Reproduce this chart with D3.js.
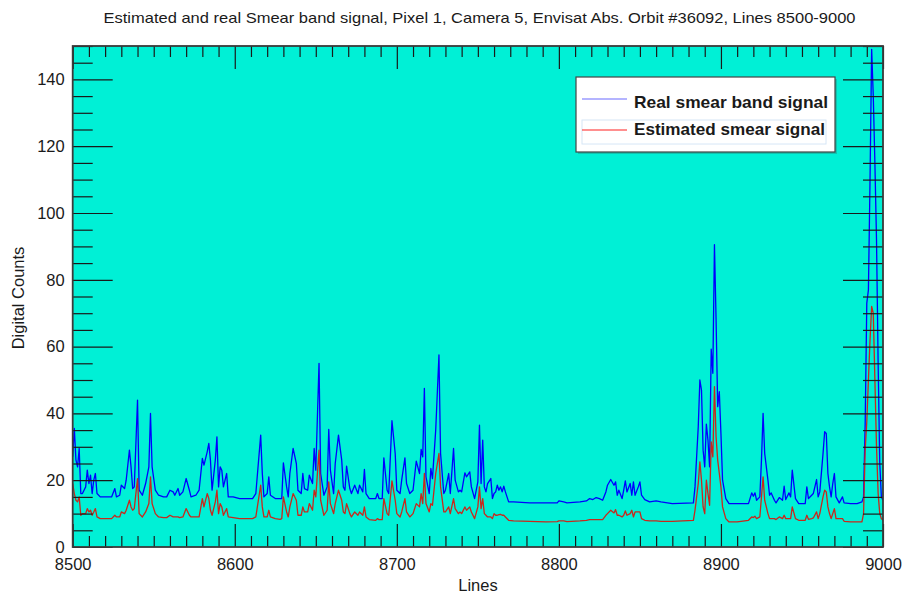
<!DOCTYPE html>
<html>
<head>
<meta charset="utf-8">
<script src="https://cdn.jsdelivr.net/npm/d3@7"></script>
<style>
  html, body { margin: 0; padding: 0; background: #ffffff; }
  svg { display: block; }
  text { font-family: "Liberation Sans", Arial, sans-serif; fill: #1a1a1a; }
</style>
</head>
<body>
<svg id="chart" width="904" height="597"></svg>
<script>
// Image line numbers and the smear signal (digital counts) at each of them
const lines = [
  8500,8501,8502,8503,8504,8505,8506,8507,8508,8509,8510,8511,8512,8513,8514,8515,8517,8521,8524,8526,
  8527,8529,8530,8532,8533,8535,8536,8537,8538,8540,8541,8543,8545,8547,8548,8549,8551,8553,8556,8558,
  8560,8562,8563,8565,8566,8568,8570,8572,8573,8576,8578,8580,8581,8583,8584,8585,8586,8588,8589,8590,
  8591,8592,8593,8595,8596,8599,8603,8611,8613,8616,8617,8618,8620,8621,8622,8625,8628,
  8629,8630,8632,8633,8634,8636,8638,8639,8641,8642,8643,8645,8646,8648,8649,8650,8652,8653,8655,8657,
  8658,8659,8661,8662,8664,8666,8667,8668,8669,8671,8672,8674,8676,8677,8679,8680,8681,8683,8687,8688,
  8689,8691,8692,8694,8695,8697,8699,8700,8702,8703,8705,8706,8708,8710,8712,8714,8715,8716,8717,8718,
  8720,8721,8722,8724,8726,8727,8729,8730,8732,8733,8735,8736,8738,8739,8740,8742,8743,8745,8746,8748,
  8750,8751,8752,8753,8754,8755,
  8756,8758,8759,8760,8761,8762,8763,8764,8765,8766,8767,8769,8772,8782,8792,8799,8800,8803,8805,8813,
  8817,8819,8821,8823,8825,8827,8829,8830,8832,8834,8835,8836,8837,8839,8840,8841,8842,8844,8845,8846,
  8847,8849,8850,8851,8853,8856,8860,8863,8867,
  8870,8883,8884,8886,8887,8888,8889,8890,8891,8892,8893,8894,8895,8896,8897,8898,8899,8900,8901,8903,
  8905,8910,8917,8919,8920,8921,8922,8924,8925,8926,8927,8929,8930,8931,8933,8934,8936,8938,8939,8940,
  8942,8943,8944,8946,8948,8952,8953,8954,8956,8957,8959,8960,8961,8963,8964,8965,8966,8967,8968,8969,
  8970,8971,8973,8975,8976,8980,8984,8987,8988,8989,8990,8991,8992,8993,8994,8995,8996,8997,8998,8999,9000
];

const realSmear = [
  27,35.5,26,24,29.5,16,16,17,18,23,19,21.5,16,20,22,16,15,15,15,17.5,
  15,15.5,18.5,17.5,20,29,24,17.5,18,44,17,15.5,19,24,40,24,17,15.5,15,15,
  17,16.5,15.5,17.5,15.5,16.5,20.5,17,15,15.5,17,26.5,24.5,28.5,31,26,17,26,33,18,
  24,23,18,22,15,15,14.5,14.5,16,33.5,22,15,16,21,15.5,14.5,14.5,
  14.5,25.2,18,15,22,29.5,25,17,16,22,17.5,17,21.5,19,29.5,23,55,22,15.5,18,
  35.2,23,16,25,33.5,26,18,17,24.2,17.5,16,18.5,16,18.5,16.5,23.2,16,14.5,14.5,16,
  14.5,14.5,26.7,17,16,37.8,28,17,16,20,26.7,19,16,17,25.7,22,29.2,27,47.5,21,
  16,23.5,20.5,35,57.5,28,16,17,22,16,29.5,20,16.5,17,16.5,22.2,21,22.5,18,14.5,
  19.5,36.5,19,32,18,16.5,
  19,20.5,14.5,16,16.5,18.5,17,18,16.5,18.2,16.5,13.5,13.5,13.2,13.2,13.2,13.8,13.5,13.2,13.5,
  13.8,14.5,14.2,14.8,14.5,14,16.5,18.5,20.2,18.5,19.5,15.5,17,14.5,17,19.8,16.5,19,15.5,19.5,
  15.5,18,19.5,15.5,14.2,13.5,13.8,13.5,13.2,
  13,13.2,18,36,50,47,29,24,36.8,32,24,59.2,52,90.5,68,42,46.5,34,20,14.5,
  13,13,13,16.2,15.2,16.2,14,15,26,40,28,20,15.5,16.2,14,13.2,14.8,14,18.2,14.2,
  16.2,15,23,14.5,13,13,18,14.5,15.5,16,20.2,15,16.5,28,34.5,34,22,18,15,19,
  22,15,13.2,15,13.2,13,13,13.5,15,37,73,77,110,149,135,115,92,55,25,15,14
];

const estimatedSmear = [
  19,16,14,13.5,15,9.5,10,10,10,11.5,10.5,11,9.5,10.5,11.5,9,8.5,8.5,8.5,9.5,
  9,9,10.5,10,11,14,12,11,11.5,20.5,10,9,10.5,13,21,13,10,9,8.8,8.8,
  9.5,9,9,9,8.8,9,11.5,9.5,9,9,9,14.5,12,16,14.5,11,9.5,13.5,17,10,
  13,12,9.5,11.5,9,8.8,8.5,8.5,9,18.5,12,9,9,11,9,8.5,8.3,
  8.5,15,10.5,9,12,16,14,9.5,9.5,12,10.5,10.5,13,11,17,15,29,14,9.5,11,
  19.5,13,10,13,17,14,10.5,10,13,10,9,10.5,9.5,10.5,9.5,12,9,8.2,8,8.5,
  8.2,8.2,14.5,10,9.5,19.8,14,10,9,10.5,14.5,10.5,9,10,13,12,16,13,22,13,
  10.5,13,12.5,22,28,18,10.5,10.5,12,10,14.5,11.5,10,10.5,10,12,11,12,10.5,8.5,
  12,18,11.5,14.5,10,9.5,
  9,9,8.5,10,9.5,9.5,9.7,9.8,9.5,9.5,9,8,7.8,7.7,7.5,7.6,7.8,7.8,7.6,7.8,
  8,8.2,8.2,8.2,8.2,8.2,9.5,10,11,10.2,11.2,9.5,9.5,9,9.5,10.8,9.5,10,11,9,
  10.5,10.5,10.5,8.5,8,7.8,7.8,7.7,7.7,
  7.7,8,11,19,25.5,20,12,10,20,16,12.5,31.5,27,48,33,26,22,18,12,8.5,
  7.5,7.5,8,9,8.8,9.2,8.5,9,15,21,14,10,8.5,8.5,8.5,8.2,9,8.5,9.5,8.5,
  8.5,8.5,12,8.5,8,8,9.5,8.3,8.5,8.7,10.5,8.5,10,15,17,16.5,12,10,8.5,10,
  11.5,8.5,8.5,8.5,7.7,7.5,7.5,7.5,10,29,37.5,50,62,72,70,50,30,16,10,8.5,8
];

const xMajorTicks = [8500, 8600, 8700, 8800, 8900, 9000];
const yMajorTicks = [0, 20, 40, 60, 80, 100, 120, 140];
const seriesNames = ["Real smear band signal", "Estimated smear signal"];
const titleText = "Estimated and real Smear band signal, Pixel 1, Camera 5, Envisat Abs. Orbit #36092, Lines 8500-9000";

const svg = d3.select("#chart");
const plotLeft = 72.7, plotRight = 883, plotTop = 46, plotBottom = 547;

const x = d3.scaleLinear().domain([8500, 9000]).range([plotLeft, plotRight]);
const y = d3.scaleLinear().domain([0, 150]).range([plotBottom, plotTop]);

const xMinor = d3.range(8500, 9001, 10).filter(v => v % 100 !== 0);
const yMinor = d3.range(0, 151, 5).filter(v => v % 20 !== 0);

// Plot background
svg.append("rect")
  .attr("x", plotLeft).attr("y", plotTop)
  .attr("width", plotRight - plotLeft).attr("height", plotBottom - plotTop)
  .attr("fill", "#00f0d6");

// Signal lines
svg.append("clipPath").attr("id", "plotClip")
  .append("rect").attr("x", plotLeft).attr("y", plotTop)
  .attr("width", plotRight - plotLeft).attr("height", plotBottom - plotTop);

const rows = lines.map((l, i) => ({ line: l, real: realSmear[i], est: estimatedSmear[i] }));

const plot = svg.append("g").attr("clip-path", "url(#plotClip)");
plot.append("path")
  .datum(rows.filter(d => d.real != null))
  .attr("fill", "none")
  .attr("stroke", "#0000ff")
  .attr("stroke-width", 1.3)
  .attr("stroke-linejoin", "round")
  .attr("d", d3.line().x(d => x(d.line)).y(d => y(d.real)));
plot.append("path")
  .datum(rows.filter(d => d.est != null))
  .attr("fill", "none")
  .attr("stroke", "#c8281c")
  .attr("stroke-width", 1.3)
  .attr("stroke-linejoin", "round")
  .attr("d", d3.line().x(d => x(d.line)).y(d => y(d.est)));

// Axes with inward ticks on all four sides
function styleAxis(g) {
  g.select(".domain").remove();
  g.selectAll(".tick line").attr("stroke", "#1a1a1a").attr("stroke-width", 1.2);
  g.selectAll("text").style("font-size", "16.5px").attr("fill", "#1a1a1a");
}

svg.append("g").attr("transform", `translate(0,${plotBottom})`)
  .call(d3.axisBottom(x).tickValues(xMajorTicks).tickSize(-23).tickPadding(11).tickFormat(d3.format("d")))
  .call(styleAxis);
svg.append("g").attr("transform", `translate(0,${plotBottom})`)
  .call(d3.axisBottom(x).tickValues(xMinor).tickSize(-11).tickFormat(""))
  .call(styleAxis);
svg.append("g").attr("transform", `translate(0,${plotTop})`)
  .call(d3.axisTop(x).tickValues(xMajorTicks).tickSize(-23).tickFormat(""))
  .call(styleAxis);
svg.append("g").attr("transform", `translate(0,${plotTop})`)
  .call(d3.axisTop(x).tickValues(xMinor).tickSize(-11).tickFormat(""))
  .call(styleAxis);

svg.append("g").attr("transform", `translate(${plotLeft},0)`)
  .call(d3.axisLeft(y).tickValues(yMajorTicks).tickSize(-40).tickPadding(8).tickFormat(d3.format("d")))
  .call(styleAxis);
svg.append("g").attr("transform", `translate(${plotLeft},0)`)
  .call(d3.axisLeft(y).tickValues(yMinor).tickSize(-20).tickFormat(""))
  .call(styleAxis);
svg.append("g").attr("transform", `translate(${plotRight},0)`)
  .call(d3.axisRight(y).tickValues(yMajorTicks).tickSize(-40).tickFormat(""))
  .call(styleAxis);
svg.append("g").attr("transform", `translate(${plotRight},0)`)
  .call(d3.axisRight(y).tickValues(yMinor).tickSize(-20).tickFormat(""))
  .call(styleAxis);

// Frame
svg.append("rect")
  .attr("x", plotLeft).attr("y", plotTop)
  .attr("width", plotRight - plotLeft).attr("height", plotBottom - plotTop)
  .attr("fill", "none").attr("stroke", "#3a3a3a").attr("stroke-width", 1.8);

// Title and axis titles
svg.append("text")
  .attr("x", 479.5).attr("y", 23)
  .attr("text-anchor", "middle")
  .attr("textLength", 752).attr("lengthAdjust", "spacingAndGlyphs")
  .style("font-size", "15px")
  .text(titleText);

svg.append("text")
  .attr("x", 478).attr("y", 591)
  .attr("text-anchor", "middle")
  .style("font-size", "16.5px")
  .text("Lines");

svg.append("text")
  .attr("transform", "translate(24,298) rotate(-90)")
  .attr("text-anchor", "middle")
  .style("font-size", "16.5px")
  .text("Digital Counts");

// Legend
const legend = svg.append("g");
legend.append("rect")
  .attr("x", 578).attr("y", 79).attr("width", 259).attr("height", 75)
  .attr("fill", "#2e6f66").attr("opacity", 0.35);
legend.append("rect")
  .attr("x", 576).attr("y", 77).attr("width", 259).attr("height", 75)
  .attr("fill", "#ffffff").attr("stroke", "#444").attr("stroke-width", 1.2);
legend.append("rect")
  .attr("x", 582).attr("y", 120).attr("width", 244).attr("height", 24)
  .attr("fill", "none").attr("stroke", "#d6e6f6").attr("stroke-width", 1);

const legendColors = ["#6a6aff", "#ff2020"];
const legendRows = [
  { lineY: 99, textY: 107.5, len: 194 },
  { lineY: 130, textY: 135, len: 191 }
];
seriesNames.forEach((name, i) => {
  legend.append("line")
    .attr("x1", 582).attr("x2", 627)
    .attr("y1", legendRows[i].lineY).attr("y2", legendRows[i].lineY)
    .attr("stroke", legendColors[i]).attr("stroke-width", 1.2);
  legend.append("text")
    .attr("x", 634).attr("y", legendRows[i].textY)
    .attr("textLength", legendRows[i].len).attr("lengthAdjust", "spacingAndGlyphs")
    .style("font-size", "17px").style("font-weight", "bold")
    .attr("fill", "#111")
    .text(name);
});
</script>
</body>
</html>
